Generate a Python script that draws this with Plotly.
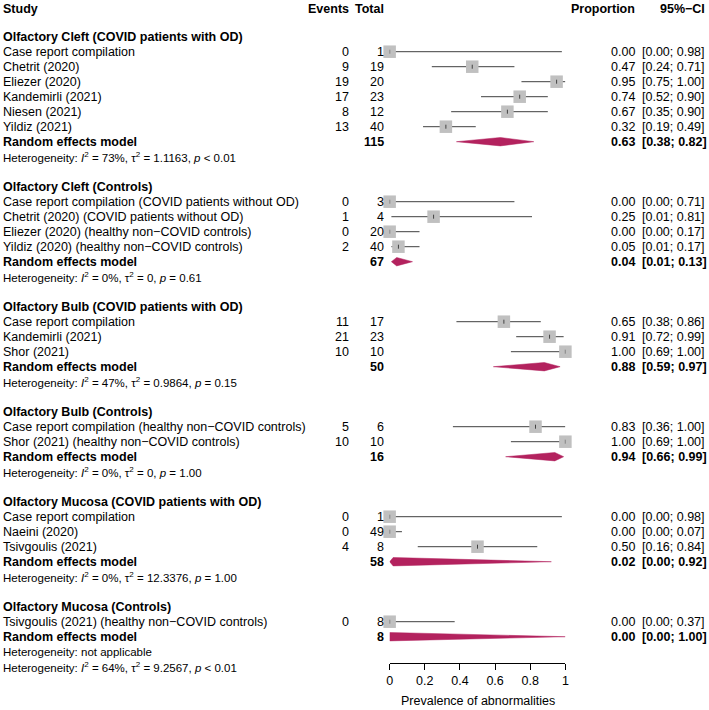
import plotly.graph_objects as go

# ---------------- data ----------------
section_titles = [
    "Olfactory Cleft (COVID patients with OD)",
    "Olfactory Cleft (Controls)",
    "Olfactory Bulb (COVID patients with OD)",
    "Olfactory Bulb (Controls)",
    "Olfactory Mucosa (COVID patients with OD)",
    "Olfactory Mucosa (Controls)",
]
study_labels = [
    ["Case report compilation", "Chetrit (2020)", "Eliezer (2020)", "Kandemirli (2021)", "Niesen (2021)", "Yildiz (2021)"],
    ["Case report compilation (COVID patients without OD)", "Chetrit (2020) (COVID patients without OD)",
     "Eliezer (2020) (healthy non\u2212COVID controls)", "Yildiz (2020) (healthy non\u2212COVID controls)"],
    ["Case report compilation", "Kandemirli (2021)", "Shor (2021)"],
    ["Case report compilation (healthy non\u2212COVID controls)", "Shor (2021) (healthy non\u2212COVID controls)"],
    ["Case report compilation", "Naeini (2020)", "Tsivgoulis (2021)"],
    ["Tsivgoulis (2021) (healthy non\u2212COVID controls)"],
]
events = [[0, 9, 19, 17, 8, 13], [0, 1, 0, 2], [11, 21, 10], [5, 10], [0, 0, 4], [0]]
totals = [[1, 19, 20, 23, 12, 40], [3, 4, 20, 40], [17, 23, 10], [6, 10], [1, 49, 8], [8]]
props = [[0.00, 0.47, 0.95, 0.74, 0.67, 0.32], [0.00, 0.25, 0.00, 0.05], [0.65, 0.91, 1.00], [0.83, 1.00],
         [0.00, 0.00, 0.50], [0.00]]
ci_low = [[0.00, 0.24, 0.75, 0.52, 0.35, 0.19], [0.00, 0.01, 0.00, 0.01], [0.38, 0.72, 0.69], [0.36, 0.69],
          [0.00, 0.00, 0.16], [0.00]]
ci_high = [[0.98, 0.71, 1.00, 0.90, 0.90, 0.49], [0.71, 0.81, 0.17, 0.17], [0.86, 0.99, 1.00], [1.00, 1.00],
           [0.98, 0.07, 0.84], [0.37]]

rem_total = [115, 67, 50, 16, 58, 8]
rem_est = [0.63, 0.04, 0.88, 0.94, 0.02, 0.00]
rem_low = [0.38, 0.01, 0.59, 0.66, 0.00, 0.00]
rem_high = [0.82, 0.13, 0.97, 0.99, 0.92, 1.00]

het_i2 = ["73%", "0%", "47%", "0%", "0%", None]
het_tau2 = ["1.1163", "0", "0.9864", "0", "12.3376", None]
het_p = ["&lt; 0.01", "= 0.61", "= 0.15", "= 1.00", "= 1.00", None]
overall_i2, overall_tau2, overall_p = "64%", "9.2567", "&lt; 0.01"

x_ticks = [0, 0.2, 0.4, 0.6, 0.8, 1]
x_tick_labels = ["0", "0.2", "0.4", "0.6", "0.8", "1"]
x_title = "Prevalence of abnormalities"

# ---------------- layout constants ----------------
W, H = 709, 710
ROW0_PX, ROW_H = 36.7, 15.0          # pixel centre of first row, row height
X_STUDY, X_EVENTS, X_TOTAL, X_PROP, X_CI, X_CIHEAD = 1, 348, 384, 637, 646, 708
PAD = 3                               # annotation inner padding compensation
PLOT_X0, PLOT_X1 = 390.5, 568
AXIS_PX = 663
FONT = "Liberation Sans, Arial, Helvetica, sans-serif"
FS, FS_HET = 12.5, 11.5
DIAMOND_COL = "#B3225E"
SQUARE_COL = "#C0C0C0"
LINE_COL = "#404040"


def px2row(py):
    return (py - ROW0_PX) / ROW_H


annotations = []


def txt(xpx, row, text, anchor="left", bold=False, size=FS):
    if bold:
        text = f"<b>{text}</b>"
    if anchor == "left":
        xpx -= PAD
    elif anchor == "right":
        xpx += PAD
    annotations.append(dict(
        x=xpx / W, xref="paper", y=row, yref="y", text=text, showarrow=False,
        xanchor=anchor, yanchor="middle", font=dict(family=FONT, size=size, color="black"),
    ))


def het_text(i2, tau2, p):
    return (f"Heterogeneity: <i>I</i><sup>2</sup> = {i2}, \u03c4<sup>2</sup> = {tau2}, "
            f"<i>p</i> {p}")


# header
hdr_row = -1.85
txt(X_STUDY, hdr_row, "Study", bold=True)
txt(X_EVENTS, hdr_row, "Events", "right", bold=True)
txt(X_TOTAL, hdr_row, "Total", "right", bold=True)
txt(X_PROP, hdr_row, "Proportion", "right", bold=True)
txt(X_CIHEAD, hdr_row, "95%\u2212CI", "right", bold=True)

fig = go.Figure()

sq_x, sq_y = [], []
ln_x, ln_y = [], []
tk_x, tk_y = [], []
DH = 4.2 / ROW_H
TICK_H = 2.0 / ROW_H

row = 0
for s in range(len(section_titles)):
    txt(X_STUDY, row, section_titles[s], bold=True)
    row += 1
    for j, lab in enumerate(study_labels[s]):
        txt(X_STUDY, row, lab)
        txt(X_EVENTS, row, str(events[s][j]), "right")
        txt(X_TOTAL, row, str(totals[s][j]), "right")
        txt(X_PROP, row, f"{props[s][j]:.2f}", "right")
        txt(X_CI, row, f"[{ci_low[s][j]:.2f}; {ci_high[s][j]:.2f}]")
        ln_x += [ci_low[s][j], ci_high[s][j], None]
        ln_y += [row, row, None]
        sq_x.append(props[s][j])
        sq_y.append(row)
        tk_x += [props[s][j], props[s][j], None]
        tk_y += [row - TICK_H, row + TICK_H, None]
        row += 1
    # random effects model
    txt(X_STUDY, row, "Random effects model", bold=True)
    txt(X_TOTAL, row, str(rem_total[s]), "right", bold=True)
    txt(X_PROP, row, f"{rem_est[s]:.2f}", "right", bold=True)
    txt(X_CI, row, f"[{rem_low[s]:.2f}; {rem_high[s]:.2f}]", bold=True)
    fig.add_trace(go.Scatter(
        x=[rem_low[s], rem_est[s], rem_high[s], rem_est[s], rem_low[s]],
        y=[row, row - DH, row, row + DH, row],
        mode="lines", fill="toself", fillcolor=DIAMOND_COL,
        line=dict(color=DIAMOND_COL, width=0.5), hoverinfo="skip", showlegend=False,
    ))
    row += 1
    if het_i2[s] is None:
        txt(X_STUDY, row, "Heterogeneity: not applicable", size=FS_HET)
    else:
        txt(X_STUDY, row, het_text(het_i2[s], het_tau2[s], het_p[s]), size=FS_HET)
    row += 1
    if s < len(section_titles) - 1:
        row += 1

# overall heterogeneity
txt(X_STUDY, row, het_text(overall_i2, overall_tau2, overall_p), size=FS_HET)

fig.add_trace(go.Scatter(x=ln_x, y=ln_y, mode="lines", line=dict(color=LINE_COL, width=1),
                         hoverinfo="skip", showlegend=False, cliponaxis=False))
fig.add_trace(go.Scatter(x=sq_x, y=sq_y, mode="markers",
                         marker=dict(symbol="square", size=12.5, color=SQUARE_COL, line=dict(width=0)),
                         hoverinfo="skip", showlegend=False, cliponaxis=False))
fig.add_trace(go.Scatter(x=tk_x, y=tk_y, mode="lines", line=dict(color="#222222", width=0.8),
                         hoverinfo="skip", showlegend=False, cliponaxis=False))

# axis title
txt((PLOT_X0 + PLOT_X1) / 2, px2row(701), x_title, "center")

fig.update_layout(
    width=W, height=H, margin=dict(l=0, r=0, t=0, b=0),
    paper_bgcolor="white", plot_bgcolor="rgba(0,0,0,0)",
    annotations=annotations,
    xaxis=dict(domain=[PLOT_X0 / W, PLOT_X1 / W], range=[0, 1], anchor="free",
               position=1 - AXIS_PX / H, showgrid=False, zeroline=False,
               showline=True, linecolor="black", linewidth=1,
               ticks="outside", ticklen=6, tickcolor="black", tickwidth=1,
               tickvals=x_ticks, ticktext=x_tick_labels,
               tickfont=dict(family=FONT, size=FS, color="black")),
    yaxis=dict(domain=[0, 1], range=[px2row(H), px2row(0)], visible=False),
    showlegend=False,
)

fig.write_html(
    "out.html",
    config={"displayModeBar": False, "staticPlot": True},
    post_script="document.body.style.margin='0';document.body.style.overflow='hidden';"
                "document.documentElement.style.overflow='hidden';",
)
